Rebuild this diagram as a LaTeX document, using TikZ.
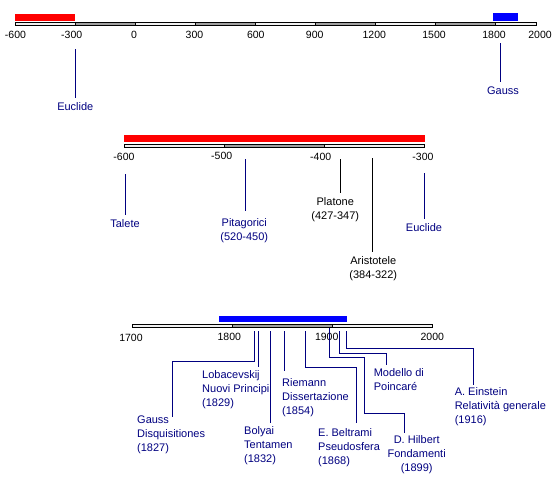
\documentclass[tikz,border=0pt]{standalone}
\usepackage{fontspec}
\setmainfont{Liberation Sans}
\definecolor{navyblue}{RGB}{0,0,128}
\definecolor{barlight}{RGB}{240,240,240}
\definecolor{bardark}{RGB}{160,160,160}
\tikzset{every picture/.style={line width=1pt}}

\begin{document}
\begin{tikzpicture}[x=1pt, y=-1pt,
    lbl/.style={inner sep=0pt, anchor=north, align=center, text=navyblue,
      font=\fontsize{11}{14}\selectfont},
    lblw/.style={lbl, anchor=north west, align=left},
    blk/.style={text=black},
    tick/.style={inner sep=0pt, font=\fontsize{10.5}{12}\selectfont},
    link/.style={draw=navyblue, shorten >=#1},
    link/.default=4pt]
    \useasboundingbox (0,0) rectangle (560,490);
    % asse generale (-600 .. 2000)
    \foreach \a/\b/\c in {15/75/barlight, 75/135/bardark, 135/195/barlight,
        195/255/bardark, 255/315/barlight, 315/375/bardark, 375/435/barlight,
        435/495/bardark, 495/536.5/barlight}
      \filldraw[fill=\c] (\a,22.5) rectangle (\b,25.5);
    \fill[red] (15,14) rectangle (75,21);
    \fill[blue] (492.7,13) rectangle (518,20.7);
    \foreach \x/\t [count=\i] in {15.5/-600, 71.7/-300, 134/0, 194.5/300, 255.8/600,
        314.7/900, 374.3/1200, 434/1500, 494/1800, 540/2000}
      \node[tick] (ta\i) at (\x,35) {\t};
    \coordinate (tEuclideA) at (75,49);
    \coordinate (tGaussA) at (500,43);
    \node[lbl] (euclideA) at (75.3,101.7) {Euclide};
    \node[lbl] (gaussA) at (503,86) {Gauss};
    \draw[link] (tEuclideA) -- (tEuclideA |- euclideA.north);
    \draw[link] (tGaussA) -- (tGaussA |- gaussA.north);

    % geometria greca (-600 .. -300)
    \fill[red] (124.3,135) rectangle (424.7,142.3);
    \foreach \a/\b/\c in {124.3/224.3/barlight, 224.3/324.3/bardark, 324.3/424.7/barlight}
      \filldraw[fill=\c] (\a,144.5) rectangle (\b,147.5);
    \foreach \x/\y/\t [count=\i] in {124/157.3/-600, 221.7/156/-500, 320.7/157/-400, 423/157/-300}
      \node[tick] (tb\i) at (\x,\y) {\t};
    \coordinate (tTalete) at (125.3,174);
    \coordinate (tPitagorici) at (245.3,159);
    \coordinate (tPlatone) at (340.3,159);
    \coordinate (tAristotele) at (372.7,158);
    \coordinate (tEuclideB) at (424.3,173.3);
    \node[lbl] (talete) at (125,218.7) {Talete};
    \node[lbl] (pitagorici) at (244.3,218.3) {Pitagorici\\(520-450)};
    \node[lbl, blk] (platone) at (335.3,197) {Platone\\(427-347)};
    \node[lbl, blk] (aristotele) at (373.3,256) {Aristotele\\(384-322)};
    \node[lbl] (euclideB) at (424,222.7) {Euclide};
    \draw[link] (tTalete) -- (tTalete |- talete.north);
    \draw[link=7.5pt] (tPitagorici) -- (tPitagorici |- pitagorici.north);
    \draw[link, draw=black] (tPlatone) -- (tPlatone |- platone.north);
    \draw[link, draw=black] (tAristotele) -- (tAristotele |- aristotele.north);
    \draw[link] (tEuclideB) -- (tEuclideB |- euclideB.north);

    % geometrie non euclidee (1700 .. 2000)
    \fill[blue] (219,316) rectangle (346.7,322.3);
    \foreach \a/\b/\c in {132.3/232.3/barlight, 232.3/332.3/bardark, 332.3/432.3/barlight}
      \filldraw[fill=\c] (\a,324.5) rectangle (\b,327.5);
    \foreach \x/\y/\t [count=\i] in {131/337.7/1700, 229.3/337/1800, 326.7/337/1900, 432.3/337/2000}
      \node[tick] (tc\i) at (\x,\y) {\t};
    \coordinate (tGauss) at (254.3,331);
    \coordinate (tLobacevskij) at (258.3,331);
    \coordinate (tBolyai) at (270.7,331);
    \coordinate (tRiemann) at (284.3,331);
    \coordinate (tBeltrami) at (305,331);
    \coordinate (tHilbert) at (329.3,328);
    \coordinate (tPoincare) at (339.3,331);
    \coordinate (tEinstein) at (346,331);
    \coordinate (kGauss) at (172.3,361.7);
    \coordinate (kBeltrami) at (356.7,367.3);
    \coordinate (kHilbertA) at (364,357.3);
    \coordinate (kHilbertB) at (404.3,413.3);
    \coordinate (kPoincare) at (386.7,353.3);
    \coordinate (kEinstein) at (473.3,348.3);
    \node[lblw] (gauss) at (136.7,415.3) {Gauss\\Disquisitiones\\(1827)};
    \node[lblw] (lobacevskij) at (201.7,370.3) {Lobacevskij\\Nuovi Principi\\(1829)};
    \node[lblw] (bolyai) at (243.7,426.3) {Bolyai\\Tentamen\\(1832)};
    \node[lblw] (riemann) at (281.7,378) {Riemann\\Dissertazione\\(1854)};
    \node[lblw] (beltrami) at (317.7,428) {E. Beltrami\\Pseudosfera\\(1868)};
    \node[lbl] (hilbert) at (416.7,435.3) {D. Hilbert\\Fondamenti\\(1899)};
    \node[lblw] (poincare) at (373.3,368.3) {Modello di\\Poincaré};
    \node[lblw] (einstein) at (454.3,387.3) {A. Einstein\\Relatività generale\\(1916)};
    \draw[link=-1.4pt] (tGauss) |- (kGauss) -- (kGauss |- gauss.north);
    \draw[link=3.6pt] (tLobacevskij) -- (tLobacevskij |- lobacevskij.north);
    \draw[link=3pt] (tBolyai) -- (tBolyai |- bolyai.north);
    \draw[link=7.3pt] (tRiemann) -- (tRiemann |- riemann.north);
    \draw[link=4.7pt] (tBeltrami) |- (kBeltrami) -- (kBeltrami |- beltrami.north);
    \draw[link=2.6pt] (tHilbert) |- (kHilbertA) |- (kHilbertB) -- (kHilbertB |- hilbert.north);
    \draw[link=3.3pt] (tPoincare) |- (kPoincare) -- (kPoincare |- poincare.north);
    \draw[link=2.3pt] (tEinstein) |- (kEinstein) -- (kEinstein |- einstein.north);
\end{tikzpicture}
\end{document}
